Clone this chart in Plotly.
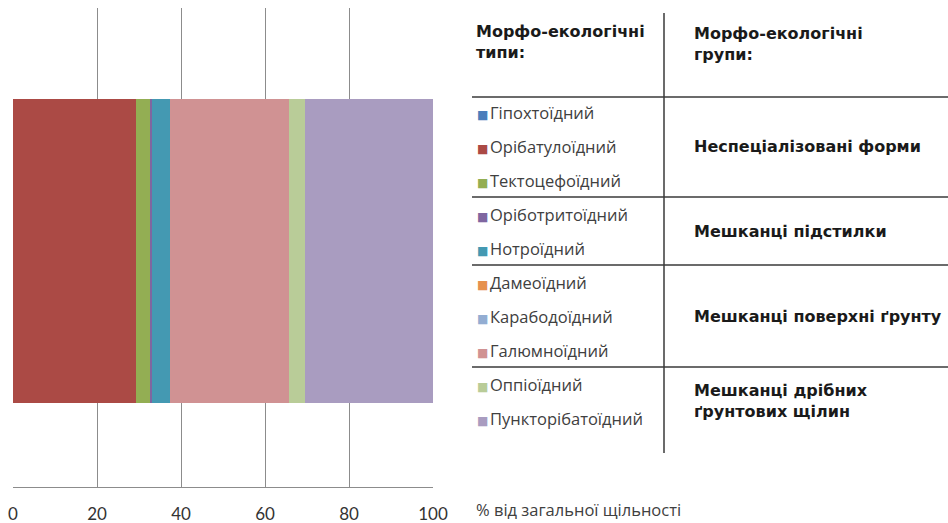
import plotly.graph_objects as go

# ---------------- data ----------------
category = ["Морфо-екологічні типи"]
types = ["Гіпохтоїдний", "Орібатулоїдний", "Тектоцефоїдний", "Оріботритоїдний",
         "Нотроїдний", "Дамеоїдний", "Карабодоїдний", "Галюмноїдний",
         "Оппіоїдний", "Пункторібатоїдний"]
values = [0.0, 29.4, 3.2, 0.5, 4.2, 0.0, 0.0, 28.3, 4.0, 30.4]
colors = ["#4A7EBB", "#AB4A45", "#93AE53", "#7F66A0", "#4499B2",
          "#E6904F", "#93ADD2", "#D09293", "#B9CC98", "#A99CC0"]
groups = ["Неспеціалізовані форми", "Мешканці підстилки",
          "Мешканці поверхні ґрунту", "Мешканці дрібних<br>ґрунтових щілин"]
group_sizes = [3, 2, 3, 2]
x_ticks = [0, 20, 40, 60, 80, 100]
header_types = "Морфо-екологічні<br>типи:"
header_groups = "Морфо-екологічні<br>групи:"
x_title = "% від загальної щільності"

# ---------------- layout helpers ----------------
W, H = 948, 523
L, R, T, B = 13, 433, 8, 487   # plot area in pixels


def px(x):
    return (x - L) / (R - L)


def py(y):
    return (B - y) / (B - T)


fig = go.Figure()
for name, v, c in zip(types, values, colors):
    fig.add_trace(go.Bar(
        x=[v], y=category, name=name, orientation="h",
        marker=dict(color=c, line=dict(width=0)),
        width=0.635, showlegend=False,
    ))

label_font = dict(family="Open Sans, Lato, sans-serif", size=16.5, color="#404040")
bold_font = dict(family="DejaVu Sans, Liberation Sans, sans-serif", size=16, color="#1a1a1a")

annotations = []
shapes = []

# headers
annotations.append(dict(x=px(474), y=py(42), xref="paper", yref="paper",
                        text="<b>" + header_types + "</b>", showarrow=False,
                        xanchor="left", yanchor="middle", align="left", font=bold_font))
annotations.append(dict(x=px(692), y=py(44), xref="paper", yref="paper",
                        text="<b>" + header_groups + "</b>", showarrow=False,
                        xanchor="left", yanchor="middle", align="left", font=bold_font))

# legend items
y0, step = 112, 34
item_y = [y0 + step * i for i in range(len(types))]
for name, c, yy in zip(types, colors, item_y):
    annotations.append(dict(
        x=px(475), y=py(yy), xref="paper", yref="paper",
        text=f'<span style="color:{c};font-family:DejaVu Sans;font-size:12px">■</span>\u200a{name}',
        showarrow=False,
        xanchor="left", yanchor="middle", align="left", font=label_font))

# group labels and separators
line_color = "#3a3a3a"
idx = 0
seps = [97]
for g, n in zip(groups, group_sizes):
    ys = item_y[idx:idx + n]
    annotations.append(dict(
        x=px(692), y=py((ys[0] + ys[-1]) / 2), xref="paper", yref="paper",
        text="<b>" + g + "</b>", showarrow=False,
        xanchor="left", yanchor="middle", align="left", font=bold_font))
    idx += n
    if idx < len(types):
        seps.append((item_y[idx - 1] + item_y[idx]) / 2)

for s in seps:
    shapes.append(dict(type="line", xref="paper", yref="paper",
                       x0=px(472), x1=px(948), y0=py(s), y1=py(s),
                       line=dict(color=line_color, width=1.5)))
shapes.append(dict(type="line", xref="paper", yref="paper",
                   x0=px(664), x1=px(664), y0=py(13), y1=py(453),
                   line=dict(color=line_color, width=1.5)))

# x-axis title
annotations.append(dict(x=px(474), y=py(509), xref="paper", yref="paper",
                        text=x_title, showarrow=False, xanchor="left",
                        yanchor="middle", font=label_font))

shift = 3.5 / (B - T)   # bar sits slightly below the plot centre
fig.update_layout(
    width=W, height=H,
    margin=dict(l=L, r=W - R, t=T, b=H - B, pad=0, autoexpand=False),
    barmode="stack",
    paper_bgcolor="white", plot_bgcolor="white",
    showlegend=False,
    annotations=annotations, shapes=shapes,
    xaxis=dict(range=[0, 100], tickvals=x_ticks, showgrid=True,
               gridcolor="#8c8c8c", gridwidth=1, zeroline=False,
               showline=True, linecolor="#8c8c8c", linewidth=1,
               ticks="outside", ticklen=12, tickcolor="rgba(0,0,0,0)",
               tickfont=dict(family="Lato, Open Sans, sans-serif", size=17, color="#333333"),
               automargin=False, fixedrange=True),
    yaxis=dict(range=[-0.5 + shift, 0.5 + shift], showticklabels=False, showgrid=False,
               zeroline=False, showline=False, automargin=False, fixedrange=True),
)

fig.write_html("out.html", config={"displayModeBar": False},
               post_script="document.body.style.margin='0';document.body.style.overflow='hidden';")
